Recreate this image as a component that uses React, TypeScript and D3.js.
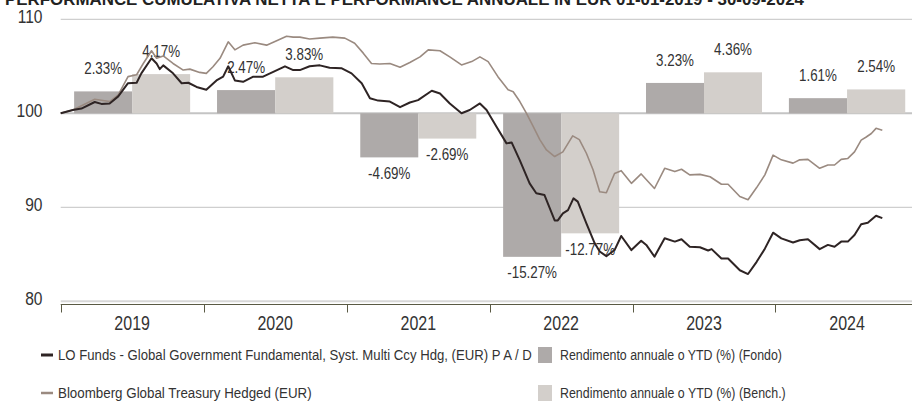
import { useEffect, useRef } from 'react';
import * as d3 from 'd3';

// Cumulative net performance (index, base 100)
const FUND_SERIES: [string, number][] = [
  ['2019-01-01', 100], ['2019-02-01', 100.35], ['2019-02-23', 100.5], ['2019-03-29', 101.2],
  ['2019-04-15', 101.0], ['2019-05-06', 101.05], ['2019-05-28', 101.8], ['2019-06-22', 103.2],
  ['2019-07-14', 103.25], ['2019-07-26', 104.25], ['2019-08-21', 105.85], ['2019-09-03', 105.3],
  ['2019-09-11', 104.7], ['2019-09-20', 105.1], ['2019-10-15', 104.25], ['2019-11-06', 103.2],
  ['2019-11-23', 103.25], ['2019-12-14', 102.8], ['2020-01-08', 102.5], ['2020-02-03', 103.5],
  ['2020-02-20', 103.9], ['2020-03-04', 105.0], ['2020-03-21', 103.5], ['2020-04-11', 103.35],
  ['2020-05-07', 103.9], ['2020-06-01', 103.9], ['2020-06-27', 104.4], ['2020-07-27', 105.0],
  ['2020-08-17', 104.6], ['2020-09-03', 104.6], ['2020-09-28', 105.0], ['2020-10-24', 105.1],
  ['2020-11-18', 104.85], ['2020-12-18', 104.8], ['2021-01-13', 104.25], ['2021-02-08', 103.2],
  ['2021-03-01', 101.6], ['2021-03-22', 101.35], ['2021-04-21', 101.25], ['2021-05-17', 100.65],
  ['2021-06-11', 101.15], ['2021-07-02', 101.4], ['2021-08-06', 102.4], ['2021-08-27', 102.1],
  ['2021-09-21', 101.05], ['2021-10-21', 100.0], ['2021-11-11', 100.35], ['2021-12-07', 101.05],
  ['2021-12-24', 100.35], ['2022-01-18', 98.6], ['2022-02-13', 96.8], ['2022-02-26', 96.9],
  ['2022-03-19', 95.0], ['2022-04-13', 92.55], ['2022-04-30', 91.5], ['2022-05-21', 91.3],
  ['2022-06-16', 88.6], ['2022-06-24', 88.6], ['2022-07-07', 89.35], ['2022-07-20', 89.7],
  ['2022-08-03', 90.95], ['2022-08-14', 90.6], ['2022-09-05', 88.3], ['2022-09-26', 86.2],
  ['2022-10-09', 85.3], ['2022-10-26', 84.8], ['2022-11-16', 85.45], ['2022-12-03', 86.95],
  ['2022-12-29', 85.45], ['2023-01-23', 86.45], ['2023-02-05', 86.0], ['2023-02-26', 84.75],
  ['2023-03-24', 86.7], ['2023-04-19', 86.35], ['2023-05-06', 86.6], ['2023-05-27', 85.8],
  ['2023-06-22', 85.75], ['2023-07-13', 85.4], ['2023-07-22', 85.55], ['2023-08-16', 84.55],
  ['2023-09-02', 84.55], ['2023-10-02', 83.3], ['2023-10-23', 82.9], ['2023-11-14', 84.2],
  ['2023-12-05', 85.6], ['2023-12-26', 87.3], ['2024-01-16', 86.7], ['2024-02-15', 86.25],
  ['2024-03-03', 86.5], ['2024-03-24', 86.6], ['2024-04-23', 85.55], ['2024-05-14', 86.0],
  ['2024-05-31', 85.8], ['2024-06-17', 86.35], ['2024-07-04', 86.35], ['2024-07-21', 87.05],
  ['2024-08-07', 88.2], ['2024-08-24', 88.35], ['2024-09-14', 89.1], ['2024-09-30', 88.85],
];

const BENCH_SERIES: [string, number][] = [
  ['2019-01-01', 100], ['2019-02-01', 100.35], ['2019-03-29', 101.5], ['2019-05-06', 101.25],
  ['2019-05-28', 101.95], ['2019-06-22', 103.9], ['2019-07-14', 104.1], ['2019-07-31', 105.3],
  ['2019-08-21', 106.65], ['2019-09-03', 105.85], ['2019-09-20', 106.1], ['2019-10-15', 105.3],
  ['2019-11-10', 104.6], ['2019-11-27', 104.7], ['2019-12-22', 104.35], ['2020-01-08', 104.25],
  ['2020-01-25', 104.95], ['2020-02-12', 105.85], ['2020-03-04', 107.6], ['2020-03-21', 106.75],
  ['2020-04-11', 107.25], ['2020-05-11', 107.5], ['2020-06-10', 107.25], ['2020-07-10', 107.8],
  ['2020-07-31', 108.2], ['2020-08-17', 108.1], ['2020-09-03', 108.1], ['2020-09-28', 107.9],
  ['2020-10-24', 108.0], ['2020-11-26', 108.1], ['2020-12-27', 108.0], ['2021-01-21', 107.45],
  ['2021-02-12', 106.4], ['2021-03-05', 105.3], ['2021-03-26', 105.25], ['2021-04-21', 105.3],
  ['2021-05-17', 104.9], ['2021-06-11', 105.4], ['2021-07-07', 106.0], ['2021-07-28', 106.75],
  ['2021-08-27', 106.65], ['2021-09-21', 106.0], ['2021-10-21', 105.15], ['2021-11-16', 105.5],
  ['2021-12-07', 106.0], ['2021-12-28', 105.5], ['2022-01-22', 103.9], ['2022-02-17', 102.5],
  ['2022-03-02', 102.3], ['2022-03-19', 101.25], ['2022-04-05', 100.0], ['2022-04-22', 98.6],
  ['2022-05-09', 97.2], ['2022-05-26', 96.1], ['2022-06-16', 95.4], ['2022-07-07', 95.9],
  ['2022-08-01', 97.6], ['2022-08-18', 97.2], ['2022-09-05', 95.75], ['2022-09-22', 94.0],
  ['2022-10-09', 91.65], ['2022-10-26', 91.55], ['2022-11-16', 93.6], ['2022-12-03', 93.9],
  ['2022-12-29', 92.55], ['2023-01-23', 93.55], ['2023-02-26', 92.0], ['2023-03-24', 94.15],
  ['2023-04-19', 93.8], ['2023-05-06', 94.05], ['2023-05-27', 93.45], ['2023-06-22', 93.5],
  ['2023-07-18', 93.25], ['2023-08-16', 92.45], ['2023-09-02', 92.45], ['2023-10-02', 91.15],
  ['2023-10-23', 90.8], ['2023-11-14', 92.1], ['2023-12-05', 93.45], ['2023-12-26', 95.55],
  ['2024-01-16', 95.05], ['2024-02-15', 94.7], ['2024-03-03', 95.05], ['2024-03-24', 95.1],
  ['2024-04-23', 94.15], ['2024-05-14', 94.5], ['2024-05-31', 94.5], ['2024-06-17', 95.1],
  ['2024-07-04', 95.2], ['2024-07-21', 95.9], ['2024-08-07', 97.15], ['2024-08-19', 97.45],
  ['2024-09-02', 97.85], ['2024-09-14', 98.4], ['2024-09-30', 98.2],
];

// Annual returns (%)
const YEARS = [2019, 2020, 2021, 2022, 2023, 2024];
const FUND_RETURNS = [2.33, 2.47, -4.69, -15.27, 3.23, 1.61];
const BENCH_RETURNS = [4.17, 3.83, -2.69, -12.77, 4.36, 2.54];

const Y_TICKS = [80, 90, 100, 110];

const TITLE = 'PERFORMANCE CUMULATIVA NETTA E PERFORMANCE ANNUALE IN EUR 01-01-2019 - 30-09-2024';
const LEGEND_FUND = 'LO Funds - Global Government Fundamental, Syst. Multi Ccy Hdg, (EUR) P A / D';
const LEGEND_BENCH = 'Bloomberg Global Treasury Hedged (EUR)';
const LEGEND_BAR_FUND = 'Rendimento annuale o YTD (%) (Fondo)';
const LEGEND_BAR_BENCH = 'Rendimento annuale o YTD (%) (Bench.)';

const FONT = "'Liberation Sans', Arial, sans-serif";
const NARROW = 0.82; // condensed look of the original face
const C_FUND_LINE = '#2e2424';
const C_BENCH_LINE = '#9a8a80';
const C_FUND_BAR = '#aeaaa9';
const C_BENCH_BAR = '#d3cfcb';
const C_TEXT = '#333333';

type Sel = d3.Selection<any, unknown, null, undefined>;

// narrow text: squeezes horizontally, or fits to a given width
function ntext(
  g: Sel, x: number, y: number, s: string | number, size: number,
  anchor = 'start', opts: { weight?: string; fit?: number; fill?: string } = {},
) {
  const t = g.append('text')
    .attr('x', 0).attr('y', 0)
    .attr('text-anchor', anchor)
    .attr('font-family', FONT)
    .attr('font-size', size)
    .attr('font-weight', opts.weight ?? 'normal')
    .attr('fill', opts.fill ?? C_TEXT)
    .text(s);
  let k = NARROW;
  if (opts.fit) {
    const w = (t.node() as SVGTextElement).getComputedTextLength();
    if (w > 0) k = opts.fit / w;
  }
  t.attr('transform', `translate(${x},${y}) scale(${k},1)`);
  return t;
}

export default function App() {
  const svgRef = useRef<SVGSVGElement | null>(null);

  useEffect(() => {
    const el = svgRef.current;
    if (!el) return;
    const W = 912;
    const H = 403;
    const left = 60.7;
    const right = 912;

    d3.select(el).selectAll('*').remove();
    const svg = d3.select(el).attr('width', W).attr('height', H) as unknown as Sel;

    const parse = d3.timeParse('%Y-%m-%d');
    const x = d3.scaleTime()
      .domain([new Date(2019, 0, 1), new Date(2025, 0, 1)])
      .range([left, left + 6 * 143]);
    const y = d3.scaleLinear().domain([80, 110]).range([301.3, 19.3]);

    // Title (partly cut off at top, as in the source)
    ntext(svg, 5, 5, TITLE, 17, 'start', { weight: 'bold', fit: 800, fill: '#222' });

    // Grid lines + y labels
    Y_TICKS.forEach((t) => {
      svg.append('line')
        .attr('x1', left).attr('x2', right)
        .attr('y1', y(t)).attr('y2', y(t))
        .attr('stroke', t === 80 ? '#d8d8d8' : '#c4c4c4')
        .attr('stroke-width', t === 100 || t === 80 ? 2 : 1);
      ntext(svg, 42.5, y(t) + 3.5, t, 19, 'end');
    });

    // Annual return bars (drawn on the index scale, 100 + value)
    const inner = d3.scaleBand<string>().domain(['fund', 'bench']).paddingInner(0).paddingOuter(0);
    const setBand = (yr: number) => {
      const x0 = x(new Date(yr, 0, 1));
      const x1 = x(new Date(yr + 1, 0, 1));
      const pad = (x1 - x0) * 0.094;
      inner.range([x0 + pad, x1 - pad]);
    };
    YEARS.forEach((yr, i) => {
      setBand(yr);
      const pairs: [string, number, string][] = [
        ['fund', FUND_RETURNS[i], C_FUND_BAR],
        ['bench', BENCH_RETURNS[i], C_BENCH_BAR],
      ];
      pairs.forEach(([k, v, c]) => {
        const y0 = y(100);
        const yv = y(100 + v);
        svg.append('rect')
          .attr('x', inner(k)!).attr('width', inner.bandwidth())
          .attr('y', Math.min(y0, yv)).attr('height', Math.abs(yv - y0))
          .attr('fill', c);
      });
    });

    // Bar labels
    YEARS.forEach((yr, i) => {
      setBand(yr);
      const pairs: [string, number][] = [['fund', FUND_RETURNS[i]], ['bench', BENCH_RETURNS[i]]];
      pairs.forEach(([k, v]) => {
        const cx = inner(k)! + inner.bandwidth() / 2;
        const ly = v >= 0 ? y(100 + v) - 17 : y(100 + v) + 21.5;
        ntext(svg, cx, ly, `${v.toFixed(2)}%`, 16.3, 'middle');
      });
    });

    // X axis
    const axisY = 304.5;
    svg.append('line')
      .attr('x1', left).attr('x2', right)
      .attr('y1', axisY).attr('y2', axisY)
      .attr('stroke', '#5a5a44').attr('stroke-width', 1);
    YEARS.forEach((yr) => {
      const tx = Math.round(x(new Date(yr, 0, 1))) + 0.5;
      svg.append('line')
        .attr('x1', tx).attr('x2', tx)
        .attr('y1', axisY).attr('y2', axisY + 8)
        .attr('stroke', '#5a5a44').attr('stroke-width', 1);
      const mid = (x(new Date(yr, 0, 1)) + x(new Date(yr + 1, 0, 1))) / 2;
      ntext(svg, mid, 329.5, yr, 19.5, 'middle');
    });

    // Lines
    const line = d3.line<[string, number]>()
      .x((d) => x(parse(d[0])!))
      .y((d) => y(d[1]));

    svg.append('path')
      .datum(BENCH_SERIES)
      .attr('d', line)
      .attr('fill', 'none')
      .attr('stroke', C_BENCH_LINE)
      .attr('stroke-width', 1.6)
      .attr('stroke-linejoin', 'round');

    svg.append('path')
      .datum(FUND_SERIES)
      .attr('d', line)
      .attr('fill', 'none')
      .attr('stroke', C_FUND_LINE)
      .attr('stroke-width', 2)
      .attr('stroke-linejoin', 'round');

    // Legend
    const rows = [
      { cy: 355, lineColor: C_FUND_LINE, lineW: 3, label: LEGEND_FUND, fit: 474, box: C_FUND_BAR, boxLabel: LEGEND_BAR_FUND, boxFit: 222 },
      { cy: 393, lineColor: C_BENCH_LINE, lineW: 2.5, label: LEGEND_BENCH, fit: 254, box: C_BENCH_BAR, boxLabel: LEGEND_BAR_BENCH, boxFit: 226 },
    ];
    rows.forEach((r) => {
      svg.append('line')
        .attr('x1', 41).attr('x2', 53)
        .attr('y1', r.cy).attr('y2', r.cy)
        .attr('stroke', r.lineColor).attr('stroke-width', r.lineW);
      ntext(svg, 58, r.cy + 5, r.label, 15, 'start', { fit: r.fit });
      svg.append('rect')
        .attr('x', 538).attr('y', r.cy - 8)
        .attr('width', 14).attr('height', 16)
        .attr('fill', r.box);
      ntext(svg, 560, r.cy + 5, r.boxLabel, 15, 'start', { fit: r.boxFit });
    });
  }, []);

  return (
    <svg
      ref={svgRef}
      style={{ position: 'absolute', left: 0, top: 0, background: '#fff' }}
    />
  );
}
